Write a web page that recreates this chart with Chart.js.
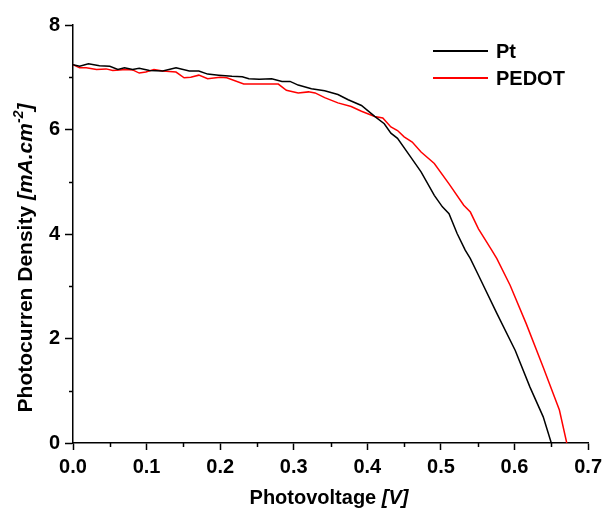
<!DOCTYPE html>
<html lang="en">
<head>
  <meta charset="UTF-8" />
  <title>J-V curves</title>
  <script src="https://cdn.jsdelivr.net/npm/chart.js"></script>
  <style>
    body { margin: 0; background: #fff; }
    .wrap { width: 607px; height: 508px; position: relative; }
  </style>
</head>
<body>
  <div class="wrap"><canvas id="jv"></canvas></div>
  <script>
    // values
    const ptVoltage = [0, 0.009, 0.021, 0.036, 0.05, 0.061, 0.070, 0.081, 0.090, 0.104, 0.122, 0.140, 0.158, 0.171,
      0.183, 0.198, 0.216, 0.230, 0.239, 0.253, 0.270, 0.284, 0.295, 0.306, 0.324, 0.342, 0.360, 0.374, 0.392,
      0.410, 0.423, 0.432, 0.441, 0.459, 0.473, 0.491, 0.502, 0.511, 0.522, 0.533, 0.540, 0.551, 0.576, 0.601,
      0.621, 0.639, 0.650];
    const ptCurrent = [7.24, 7.21, 7.26, 7.22, 7.21, 7.15, 7.18, 7.15, 7.17, 7.13, 7.12, 7.18, 7.12, 7.12,
      7.06, 7.04, 7.02, 7.01, 6.97, 6.96, 6.97, 6.92, 6.92, 6.85, 6.78, 6.74, 6.67, 6.57, 6.46,
      6.25, 6.11, 5.93, 5.83, 5.47, 5.19, 4.74, 4.52, 4.39, 4.01, 3.69, 3.53, 3.21, 2.48, 1.77,
      1.07, 0.50, 0];

    const pedotVoltage = [0, 0.009, 0.018, 0.032, 0.045, 0.054, 0.072, 0.081, 0.090, 0.099, 0.110, 0.122, 0.140,
      0.151, 0.160, 0.171, 0.183, 0.200, 0.209, 0.232, 0.253, 0.279, 0.290, 0.306, 0.320, 0.329, 0.342, 0.360,
      0.378, 0.392, 0.410, 0.421, 0.432, 0.441, 0.450, 0.461, 0.473, 0.491, 0.511, 0.531, 0.540, 0.551, 0.569,
      0.576, 0.594, 0.616, 0.639, 0.661, 0.671];
    const pedotCurrent = [7.24, 7.18, 7.18, 7.15, 7.16, 7.13, 7.15, 7.14, 7.08, 7.10, 7.15, 7.12, 7.10,
      6.99, 7.00, 7.04, 6.97, 7.00, 6.99, 6.87, 6.87, 6.87, 6.75, 6.70, 6.72, 6.70, 6.61, 6.51,
      6.44, 6.35, 6.25, 6.22, 6.05, 5.98, 5.86, 5.76, 5.57, 5.35, 4.96, 4.55, 4.42, 4.10, 3.69,
      3.53, 3.02, 2.28, 1.45, 0.63, 0];

    const seriesNames = ['Pt', 'PEDOT'];
    const xMinorTicks = [0.05, 0.15, 0.25, 0.35, 0.45, 0.55, 0.65];
    const yMinorTicks = [1, 3, 5, 7];

    const FONT = '"Liberation Sans", Arial, sans-serif';

    const toPoints = (xs, ys) => xs.map((x, i) => ({ x: x, y: ys[i] }));

    // minor ticks, axis titles with italic parts, and the legend
    const decor = {
      id: 'decor',
      afterDraw(chart) {
        const ctx = chart.ctx;
        const xs = chart.scales.x, ys = chart.scales.y;
        const area = chart.chartArea;
        ctx.save();
        ctx.strokeStyle = '#000';
        ctx.lineWidth = 1.5;
        xMinorTicks.forEach(v => {
          const px = Math.round(xs.getPixelForValue(v)) + 0.5;
          ctx.beginPath(); ctx.moveTo(px, area.bottom); ctx.lineTo(px, area.bottom + 4); ctx.stroke();
        });
        yMinorTicks.forEach(v => {
          const py = Math.round(ys.getPixelForValue(v)) + 0.5;
          ctx.beginPath(); ctx.moveTo(area.left, py); ctx.lineTo(area.left - 4, py); ctx.stroke();
        });

        ctx.fillStyle = '#000';
        ctx.textBaseline = 'alphabetic';
        ctx.textAlign = 'left';

        // x title
        const bold = 'bold 20px ' + FONT, boldIt = 'italic bold 20px ' + FONT;
        ctx.font = bold; const w1 = ctx.measureText('Photovoltage ').width;
        ctx.font = boldIt; const w2 = ctx.measureText('[V]').width;
        let x0 = 329 - (w1 + w2) / 2;
        ctx.font = bold; ctx.fillText('Photovoltage ', x0, 504);
        ctx.font = boldIt; ctx.fillText('[V]', x0 + w1, 504);

        // y title
        const yb = 'bold 21px ' + FONT, ybIt = 'italic bold 21px ' + FONT;
        const parts = [
          { t: 'Photocurren Density ', f: yb, dy: 0 },
          { t: '[mA.cm', f: ybIt, dy: 0 },
          { t: '-2', f: 'italic bold 14px ' + FONT, dy: -9 },
          { t: ']', f: ybIt, dy: 0 }
        ];
        let total = 0;
        parts.forEach(p => { ctx.font = p.f; p.w = ctx.measureText(p.t).width; total += p.w; });
        ctx.translate(32, 258);
        ctx.rotate(-Math.PI / 2);
        let cx = -total / 2;
        parts.forEach(p => { ctx.font = p.f; ctx.fillText(p.t, cx, p.dy); cx += p.w; });
        ctx.setTransform(1, 0, 0, 1, 0, 0);

        // legend
        const rows = [51, 78];
        chart.data.datasets.forEach((ds, i) => {
          ctx.strokeStyle = ds.borderColor;
          ctx.lineWidth = 1.8;
          ctx.beginPath(); ctx.moveTo(433, rows[i]); ctx.lineTo(488, rows[i]); ctx.stroke();
          ctx.font = bold;
          ctx.textBaseline = 'middle';
          ctx.fillText(ds.label, 496, rows[i] + 1);
        });
        ctx.restore();
      }
    };

    new Chart(document.getElementById('jv'), {
      type: 'scatter',
      data: {
        datasets: [
          { label: seriesNames[0], data: toPoints(ptVoltage, ptCurrent), showLine: true,
            borderColor: '#000000', borderWidth: 1.5, pointRadius: 0, tension: 0 },
          { label: seriesNames[1], data: toPoints(pedotVoltage, pedotCurrent), showLine: true,
            borderColor: '#ff0000', borderWidth: 1.5, pointRadius: 0, tension: 0 }
        ]
      },
      options: {
        responsive: true,
        maintainAspectRatio: false,
        animation: false,
        layout: { padding: { left: 0, top: 25, right: 15, bottom: 0 } },
        plugins: { legend: { display: false }, tooltip: { enabled: false } },
        scales: {
          x: {
            type: 'linear', min: 0, max: 0.7,
            afterFit: s => { s.height = 65; },
            border: { color: '#000', width: 1.5 },
            grid: { drawOnChartArea: false, drawTicks: true, tickLength: 7, tickColor: '#000', tickWidth: 1.5 },
            ticks: {
              stepSize: 0.1, padding: 5, color: '#000',
              font: { family: FONT, size: 20, weight: 'bold' },
              callback: v => v.toFixed(1)
            }
          },
          y: {
            min: 0, max: 8,
            afterFit: s => { s.width = 73; },
            border: { color: '#000', width: 1.5 },
            grid: { drawOnChartArea: false, drawTicks: true, tickLength: 8, tickColor: '#000', tickWidth: 1.5 },
            ticks: {
              stepSize: 2, padding: 5, color: '#000',
              font: { family: FONT, size: 20, weight: 'bold' }
            }
          }
        }
      },
      plugins: [decor]
    });
  </script>
</body>
</html>
